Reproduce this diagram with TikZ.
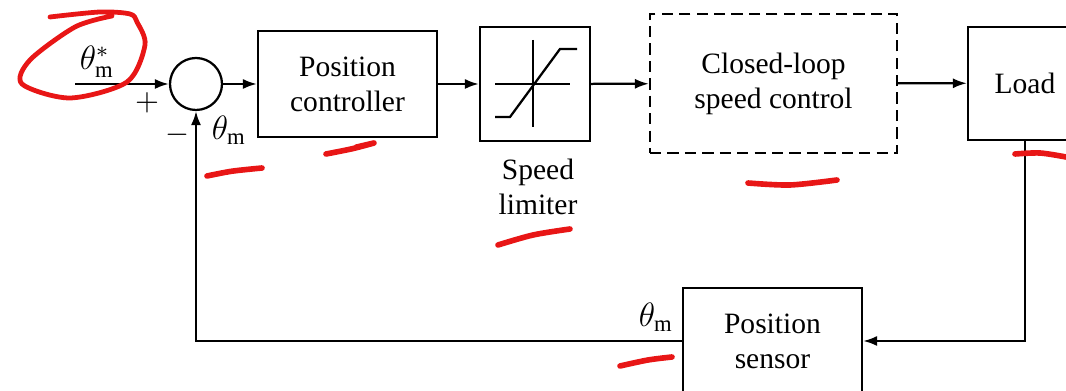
\documentclass[tikz,border=0pt]{standalone}
\usepackage{fontspec}
\setmainfont{Liberation Serif}
\usepackage{tikz}
\usetikzlibrary{arrows.meta,positioning,calc}
\definecolor{pen}{RGB}{232,22,22}

\begin{document}
\begin{tikzpicture}[
    font=\fontsize{10.5}{12.5}\selectfont,
    box/.style={rectangle, minimum width=2.2375cm, minimum height=1.325cm, align=center, draw=black, line width=0.8pt},
    arrow/.style={-{Latex[length=5pt,width=3.6pt]}, line width=0.8pt},
    sym/.style={font=\fontsize{11.5}{13}\selectfont},
    scribble/.style={pen, line width=2pt, line cap=round, line join=round},
]
\clip (0,0) rectangle (13.325,-4.8875);

% Reference input and summing point
\coordinate (in) at (0.9375,-1.05);
\node[circle, draw=black, line width=0.8pt, minimum size=0.65cm, inner sep=0pt] (sum) at (2.45,-1.05) {};
\node[sym] (thref) at (1.2125,-0.775) {$\theta^{*}_{\mathrm{m}}$};
\node (plus) at (1.8375,-1.2875) {$+$};
\node (minus) at (2.2125,-1.6875) {$-$};
\node[sym] (thfb) at (2.8625,-1.625) {$\theta_{\mathrm{m}}$};

% Forward path
\node[box] (posctrl) at (4.344,-1.05) {Position\\controller};
\node[box, minimum width=1.375cm, minimum height=1.425cm] (limiter) at (6.6875,-1.05) {};
\node[align=center] (limlabel) at (6.725,-2.34) {Speed\\limiter};
\node[box, dash pattern=on 4pt off 2.2pt, minimum width=3.0875cm, minimum height=1.7375cm] (speedloop) at (9.669,-1.044) {Closed-loop\\speed control};
\node[box, minimum width=1.425cm, minimum height=1.4125cm] (load) at (12.8125,-1.04) {Load};

% Saturation curve
\begin{scope}[shift={(limiter.center)}, line width=0.8pt]
\draw (-0.5,0) -- (0.4375,0);
\draw (-0.025,0.55) -- (-0.025,-0.5375);
\draw (-0.5,-0.4125) -- (-0.3125,-0.4125) -- (0.3125,0.4375) -- (0.525,0.4375);
\end{scope}

% Feedback path
\node[box] (sensor) at (9.656,-4.2625) {Position\\sensor};
\node[sym] (thsens) at (8.2,-3.9625) {$\theta_{\mathrm{m}}$};

\draw[arrow] (in) -- (sum);
\draw[arrow] (sum) -- (posctrl);
\draw[arrow] (posctrl) -- (limiter);
\draw[arrow] (limiter) -- (speedloop);
\draw[arrow] (speedloop) -- (load);
\draw[arrow] (load) |- (sensor);
\draw[arrow] (sensor) -| (sum);

% Red pen marks
\draw[scribble, line width=1.7pt] plot[smooth] coordinates {(0.625,-0.2125) (1.25,-0.15) (1.625,-0.175) (1.7125,-0.275) (1.8125,-0.5625) (1.5875,-1.025) (0.875,-1.225) (0.275,-1.05) (0.375,-0.75) (0.9375,-0.3375) (1.4,-0.2)};
\draw[scribble] plot[smooth] coordinates {(2.5875,-2.2) (2.9,-2.14) (3.275,-2.1)};
\draw[scribble] plot[smooth] coordinates {(4.075,-1.925) (4.4,-1.86) (4.675,-1.7875) (4.45,-1.84)};
\draw[scribble] plot[smooth] coordinates {(6.225,-3.0625) (6.6625,-2.9375) (7.125,-2.8625)};
\draw[scribble] plot[smooth] coordinates {(9.35,-2.2875) (9.875,-2.3125) (10.4625,-2.25)};
\draw[scribble] plot[smooth] coordinates {(12.6875,-1.925) (13.0,-1.9125) (13.325,-1.9625)};
\draw[scribble] plot[smooth] coordinates {(7.75,-4.575) (8.1,-4.5) (8.4,-4.4625)};

\end{tikzpicture}
\end{document}
